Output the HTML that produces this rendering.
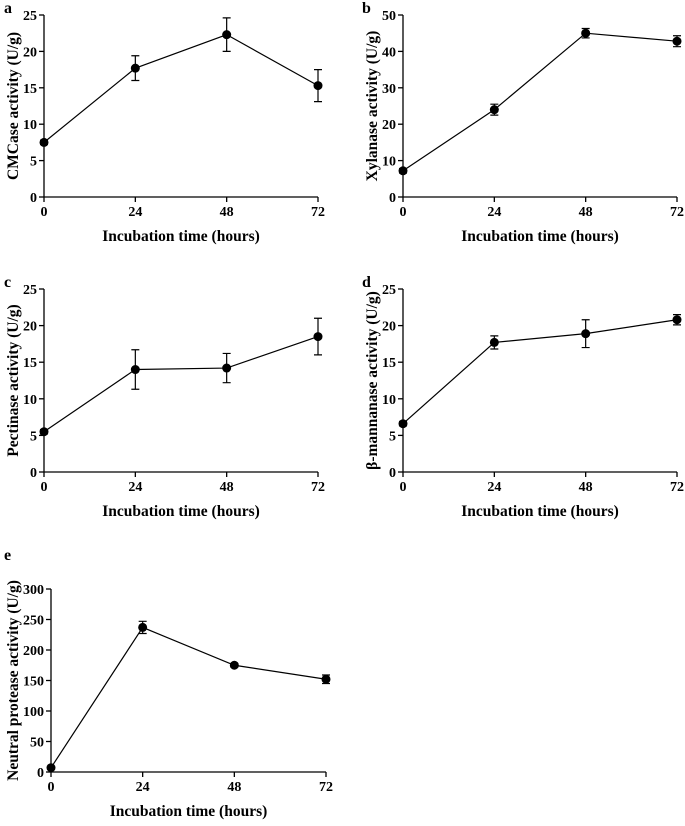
<!DOCTYPE html>
<html><head><meta charset="utf-8"><style>
body{margin:0;background:#fff}
svg text{font-family:"Liberation Serif",serif;font-weight:bold;fill:#000}
</style></head><body>
<svg id="fig" width="685" height="821" xmlns="http://www.w3.org/2000/svg"></svg>
<script>
const hours=[0,24,48,72];
const xTicks=["0","24","48","72"];
const cmcase=[7.5,17.7,22.3,15.3];
const cmcaseErr=[0.3,1.7,2.3,2.2];
const xylanase=[7.2,24,45,42.8];
const xylanaseErr=[0.6,1.5,1.3,1.5];
const pectinase=[5.5,14,14.2,18.5];
const pectinaseErr=[0.3,2.7,2,2.5];
const mannanase=[6.6,17.7,18.9,20.8];
const mannanaseErr=[0.3,0.9,1.9,0.7];
const protease=[7,237,175,152];
const proteaseErr=[2,10,3,7];
const NS="http://www.w3.org/2000/svg";
const svg=document.getElementById('fig');
function mk(t,a,p){const e=document.createElementNS(NS,t);for(const k in a)e.setAttribute(k,a[k]);(p||svg).appendChild(e);return e;}
const panels=[
 {id:'a',x0:44,x1:318,yT:15,yB:197,max:25,step:5,title:'CMCase activity (U/g)',v:cmcase,e:cmcaseErr,lx:4,ly:13,to:26},
 {id:'b',x0:403,x1:677,yT:15,yB:197,max:50,step:10,title:'Xylanase activity (U/g)',v:xylanase,e:xylanaseErr,lx:362,ly:13,to:26},
 {id:'c',x0:44,x1:318,yT:289,yB:472,max:25,step:5,title:'Pectinase activity (U/g)',v:pectinase,e:pectinaseErr,lx:4,ly:287,to:26},
 {id:'d',x0:403,x1:677,yT:289,yB:472,max:25,step:5,title:'β-mannanase activity (U/g)',v:mannanase,e:mannanaseErr,lx:362,ly:287,to:26},
 {id:'e',x0:51,x1:326,yT:589,yB:772,max:300,step:50,title:'Neutral protease activity (U/g)',v:protease,e:proteaseErr,lx:4,ly:560,to:33}
];
panels.forEach(p=>{
 const g=mk('g',{});
 
 
 const X=h=>p.x0+(p.x1-p.x0)*h/72;
 const Y=v=>p.yB-(p.yB-p.yT)*v/p.max;
 const lab=mk('text',{x:p.lx,y:p.ly,'font-size':16},g);lab.textContent=p.id;
 
 
 const ya=mk('line',{x1:p.x0,y1:p.yT,x2:p.x0,y2:p.yB,stroke:'#000','stroke-width':1.3},g);
 
 
 const xa=mk('line',{x1:p.x0,y1:p.yB,x2:p.x1,y2:p.yB,stroke:'#000','stroke-width':1.3},g);
 
 
 for(let v=0;v<=p.max;v+=p.step){
  mk('line',{x1:p.x0-5,y1:Y(v),x2:p.x0,y2:Y(v),stroke:'#000','stroke-width':1.3},g);
  const t=mk('text',{x:p.x0-7,y:Y(v)+5,'font-size':14,'text-anchor':'end'},g);t.textContent=v;
  
  
 }
 hours.forEach((h,i)=>{
  mk('line',{x1:X(h),y1:p.yB,x2:X(h),y2:p.yB+5,stroke:'#000','stroke-width':1.3},g);
  const t=mk('text',{x:X(h),y:p.yB+19,'font-size':14,'text-anchor':'middle'},g);t.textContent=xTicks[i];
  
  
 });
 const xt=mk('text',{x:(p.x0+p.x1)/2,y:p.yB+44,'font-size':15.5,'text-anchor':'middle'},g);xt.textContent='Incubation time (hours)';
 
 
 const cy=(p.yT+p.yB)/2, cx=p.x0-p.to;
 const yt=mk('text',{x:cx,y:cy,'font-size':15.5,'text-anchor':'middle',transform:`rotate(-90 ${cx} ${cy})`},g);yt.textContent=p.title;
 
 
 const pts=hours.map((h,i)=>X(h)+','+Y(p.v[i])).join(' ');
 const ln=mk('polyline',{points:pts,fill:'none',stroke:'#000','stroke-width':1.2},g);
 
 
 hours.forEach((h,i)=>{
  const x=X(h),y1=Y(p.v[i]+p.e[i]),y2=Y(p.v[i]-p.e[i]);
  const eb=mk('path',{d:`M${x},${y1}V${y2}M${x-4},${y1}H${x+4}M${x-4},${y2}H${x+4}`,stroke:'#000','stroke-width':1.2,fill:'none'},g);
  
  
  const c=mk('circle',{cx:x,cy:Y(p.v[i]),r:4.5,fill:'#000'},g);
  
  
 });
});
</script>
</body></html>
